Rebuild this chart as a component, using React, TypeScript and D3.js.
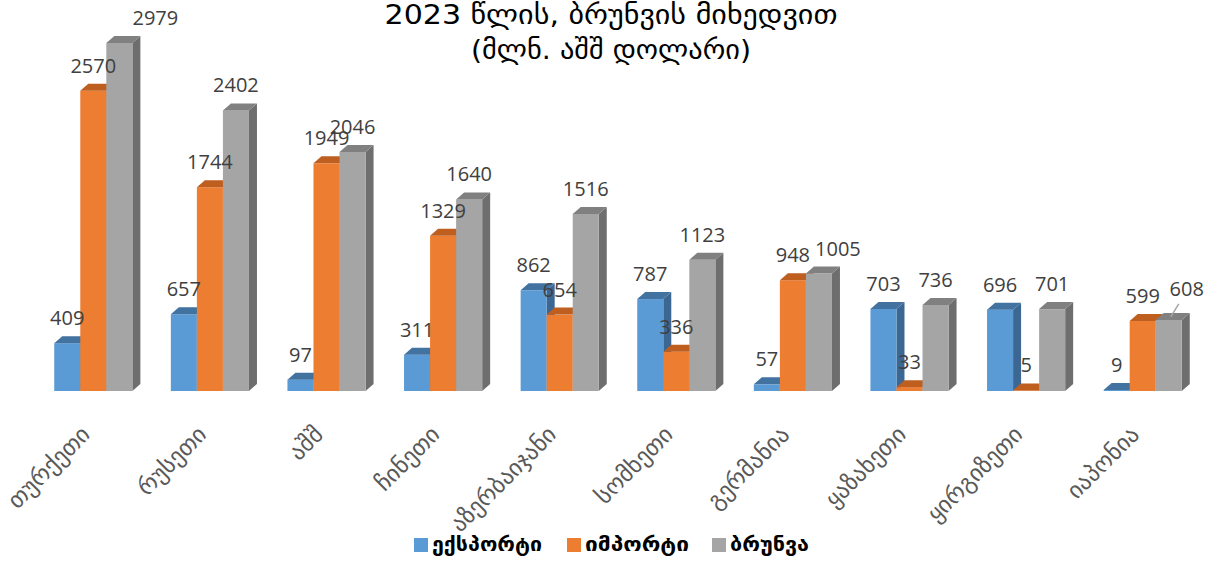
import React from "react";
import * as d3 from "d3";

const categories = ["თურქეთი", "რუსეთი", "აშშ", "ჩინეთი", "აზერბაიჯანი", "სომხეთი", "გერმანია", "ყაზახეთი", "ყირგიზეთი", "იაპონია"];
const exportValues = [409, 657, 97, 311, 862, 787, 57, 703, 696, 9];
const importValues = [2570, 1744, 1949, 1329, 654, 336, 948, 33, 5, 599];
const turnoverValues = [2979, 2402, 2046, 1640, 1516, 1123, 1005, 736, 701, 608];
const seriesNames = ["ექსპორტი", "იმპორტი", "ბრუნვა"];
const titleLines = ["2023 წლის, ბრუნვის მიხედვით", "(მლნ. აშშ დოლარი)"];

const W = 1220;
const H = 561;
const palette = [
  { front: "#5B9BD5", top: "#4272A0", side: "#3B6792" },
  { front: "#ED7D31", top: "#BE5E1F", side: "#B3581C" },
  { front: "#A5A5A5", top: "#808080", side: "#6E6E6E" },
];
const DX = 8;
const DY = 7;
const GEO = "'DejaVu Sans', sans-serif";

// label nudges (layout only): [seriesIndex, categoryIndex, dx, dy, leader]
const labelNudges: [number, number, number, number, boolean][] = [
  [2, 0, 36, 0, false],
  [2, 6, 19, 0, false],
  [2, 9, 18, -6, true],
];
const titleWidths = [453, 280];
const legendWidths = [110, 104, 79];

export default function App() {
  const series = [exportValues, importValues, turnoverValues];
  const x0 = d3.scaleBand<string>().domain(categories).range([35, 1201]).paddingInner(0.33).paddingOuter(0.165);
  const x1 = d3.scaleBand<number>().domain([0, 1, 2]).range([0, x0.bandwidth()]);
  const y = d3.scaleLinear().domain([0, 3000]).range([391, 391 - 3000 * 0.11682]);

  const bars: React.ReactNode[] = [];
  const labels: React.ReactNode[] = [];
  categories.forEach((c, ci) => {
    series.forEach((vals, si) => {
      const v = vals[ci];
      const xl = (x0(c) as number) + (x1(si) as number);
      const bw = x1.bandwidth();
      const xr = xl + bw;
      const yt = y(v);
      const yb = y(0);
      const col = palette[si];
      bars.push(
        <g key={`b${ci}-${si}`}>
          <polygon points={`${xr},${yb} ${xr + DX},${yb - DY} ${xr + DX},${yt - DY} ${xr},${yt}`} fill={col.side} />
          <rect x={xl} y={yt} width={bw} height={yb - yt} fill={col.front} />
          <polygon points={`${xl},${yt} ${xl + DX},${yt - DY} ${xr + DX},${yt - DY} ${xr},${yt}`} fill={col.top} />
        </g>
      );
      const nudge = labelNudges.find((n) => n[0] === si && n[1] === ci);
      const lx = xl + bw / 2 + (nudge ? nudge[2] : 0);
      const ly = yt - 18 + (nudge ? nudge[3] : 0);
      labels.push(
        <text key={`l${ci}-${si}`} x={lx} y={ly} textAnchor="middle" fontFamily="'Open Sans', sans-serif" fontSize={20} fill="#404040">
          {v}
        </text>
      );
      if (nudge && nudge[4]) {
        labels.push(
          <line key={`ll${ci}-${si}`} x1={xl + bw / 2 + 2} y1={yt - 3} x2={lx - 8} y2={ly + 8} stroke="#A6A6A6" strokeWidth={1.5} />
        );
      }
    });
  });

  const legendX = [414, 567, 712];

  return (
    <svg width={W} height={H} style={{ position: "absolute", left: 0, top: 0, background: "#fff" }}>
      <rect width={W} height={H} fill="#fff" />
      {titleLines.map((t, i) => (
        <text key={t} x={611} y={24 + i * 35} textAnchor="middle" fontFamily={GEO} fontSize={27} fill="#000"
          textLength={titleWidths[i]} lengthAdjust="spacingAndGlyphs">
          {t}
        </text>
      ))}
      {bars}
      {labels}
      {categories.map((c) => {
        const cx = (x0(c) as number) + x0.bandwidth() / 2 - 2;
        const cy = 436;
        return (
          <text key={c} x={cx} y={cy} transform={`rotate(-45 ${cx} ${cy})`} textAnchor="end" fontFamily={GEO} fontSize={23.5} fill="#595959">
            {c}
          </text>
        );
      })}
      {seriesNames.map((s, i) => (
        <g key={s}>
          <rect x={legendX[i]} y={538} width={14} height={14} fill={palette[i].front} />
          <text x={legendX[i] + 18} y={551} fontFamily={GEO} fontSize={20} fontWeight="bold" fill="#000"
            textLength={legendWidths[i]} lengthAdjust="spacingAndGlyphs">
            {s}
          </text>
        </g>
      ))}
    </svg>
  );
}
